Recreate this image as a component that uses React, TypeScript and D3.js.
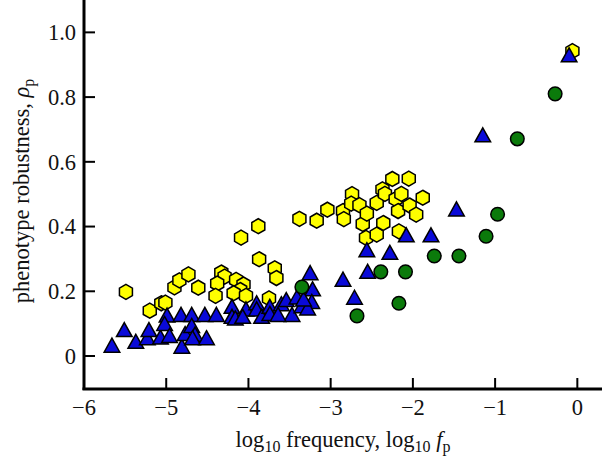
import React from "react";
import * as d3 from "d3";

// yellow hexagons: [log10 f, rho]
const yellowX = [-5.49,-5.20,-5.06,-5.01,-4.90,-4.84,-4.73,-4.61,-4.33,-4.29,-4.38,-4.15,-4.06,-4.10,-4.18,-4.40,-4.03,-3.75,-3.87,-3.68,-3.66,-4.09,-3.88,-3.38,-3.17,-3.04,-2.85,-2.84,-2.74,-2.75,-2.65,-2.61,-2.56,-2.57,-2.44,-2.44,-2.36,-2.37,-2.34,-2.25,-2.21,-2.18,-2.17,-2.14,-2.05,-2.04,-1.96,-1.88,-0.06];
const yellowY = [0.198,0.140,0.163,0.165,0.212,0.234,0.252,0.211,0.258,0.245,0.224,0.235,0.221,0.204,0.194,0.186,0.186,0.178,0.299,0.271,0.241,0.366,0.401,0.424,0.418,0.452,0.448,0.423,0.500,0.471,0.466,0.408,0.440,0.365,0.473,0.375,0.411,0.515,0.501,0.547,0.485,0.448,0.385,0.501,0.548,0.465,0.437,0.489,0.942];

// blue triangles
const blueX = [-5.66,-5.51,-5.37,-5.23,-5.21,-5.07,-4.99,-5.02,-4.96,-4.81,-4.82,-4.77,-4.69,-4.69,-4.65,-4.68,-4.51,-4.53,-4.39,-4.20,-4.20,-4.16,-4.03,-4.07,-3.90,-3.90,-3.84,-3.74,-3.74,-3.60,-3.54,-3.47,-3.41,-3.25,-3.22,-3.23,-3.35,-3.28,-3.33,-2.85,-2.71,-2.55,-2.56,-2.28,-2.08,-1.78,-1.47,-1.15,-0.10,-3.64];
const blueY = [0.032,0.080,0.044,0.055,0.080,0.057,0.125,0.099,0.062,0.029,0.127,0.068,0.127,0.093,0.066,0.055,0.055,0.127,0.127,0.152,0.121,0.116,0.144,0.121,0.163,0.144,0.121,0.152,0.130,0.160,0.173,0.127,0.181,0.256,0.206,0.167,0.154,0.147,0.175,0.236,0.180,0.260,0.327,0.319,0.373,0.373,0.453,0.682,0.929,0.127];

// green circles
const greenX = [-3.35,-2.68,-2.39,-2.17,-2.09,-1.74,-1.44,-1.11,-0.97,-0.73,-0.27];
const greenY = [0.213,0.124,0.260,0.163,0.260,0.309,0.309,0.370,0.438,0.671,0.810];

const xTicks = [-6,-5,-4,-3,-2,-1,0];
const yTicks = [0,0.2,0.4,0.6,0.8,1.0];

const W = 602, H = 462;
const x = d3.scaleLinear().domain([-6, 0.3]).range([84, 602]);
const y = d3.scaleLinear().domain([-0.105, 1.1]).range([390, 0]);

const fmtX = (v: number) => (v < 0 ? "\u2212" + Math.abs(v) : String(v));
const fmtY = (v: number) => (v === 0 ? "0" : v.toFixed(1));

const hexPath = (() => {
  const r = 7.5;
  const pts = d3.range(6).map(i => {
    const a = (Math.PI / 3) * i - Math.PI / 2;
    return [r * Math.cos(a), r * Math.sin(a)];
  });
  return "M" + pts.map(p => p.join(",")).join("L") + "Z";
})();
const triPath = "M0,-7.5L7.8,6.5L-7.8,6.5Z";

export default function App() {
  const serif = "'Liberation Serif', 'DejaVu Serif', serif";
  return (
    <svg width={W} height={H} style={{ position: "absolute", left: 0, top: 0, background: "#fff" }}
      fontFamily={serif}>
      <rect width={W} height={H} fill="#fff" />
      {/* points */}
      {yellowX.map((v, i) => (
        <path key={"y" + i} d={hexPath} transform={`translate(${x(v)},${y(yellowY[i])})`}
          fill="#ffff00" stroke="#000" strokeWidth={1.5} />
      ))}
      {blueX.map((v, i) => (
        <path key={"b" + i} d={triPath} transform={`translate(${x(v)},${y(blueY[i])})`}
          fill="#0a0ad8" stroke="#000" strokeWidth={1.5} strokeLinejoin="miter" />
      ))}
      {greenX.map((v, i) => (
        <circle key={"g" + i} cx={x(v)} cy={y(greenY[i])} r={6.8}
          fill="#0b7a0b" stroke="#000" strokeWidth={1.5} />
      ))}
      {/* axes */}
      <line x1={x(-6)} x2={x(-6)} y1={0} y2={y(-0.105)} stroke="#000" strokeWidth={3} />
      <line x1={x(-6) - 1.5} x2={W} y1={y(-0.105) - 1} y2={y(-0.105) - 1} stroke="#000" strokeWidth={3} />
      {yTicks.map(t => (
        <g key={"yt" + t}>
          <line x1={x(-6)} x2={x(-6) + 11} y1={y(t)} y2={y(t)} stroke="#000" strokeWidth={2} />
          <text x={76} y={y(t)} dy="0.35em" textAnchor="end" fontSize={22.5} fill="#111">{fmtY(t)}</text>
        </g>
      ))}
      {xTicks.map(t => (
        <g key={"xt" + t}>
          <line x1={x(t)} x2={x(t)} y1={y(-0.105) - 1} y2={y(-0.105) - 12} stroke="#000" strokeWidth={2} />
          <text x={x(t)} y={415} textAnchor="middle" fontSize={22.5} fill="#111">{fmtX(t)}</text>
        </g>
      ))}
      {/* x label */}
      <text x={343} y={447} textAnchor="middle" fontSize={22.5} fill="#111">
        log<tspan fontSize={16} dy={5}>10</tspan>
        <tspan dy={-5}> frequency, log</tspan>
        <tspan fontSize={16} dy={5}>10</tspan>
        <tspan dy={-5}> </tspan>
        <tspan fontStyle="italic">f</tspan>
        <tspan fontSize={16} dy={5}>p</tspan>
      </text>
      {/* y label */}
      <text transform={`translate(29,191) rotate(-90)`} textAnchor="middle" fontSize={22.5} fill="#111">
        phenotype robustness, <tspan fontStyle="italic">ρ</tspan>
        <tspan fontSize={16} dy={5}>p</tspan>
      </text>
    </svg>
  );
}
